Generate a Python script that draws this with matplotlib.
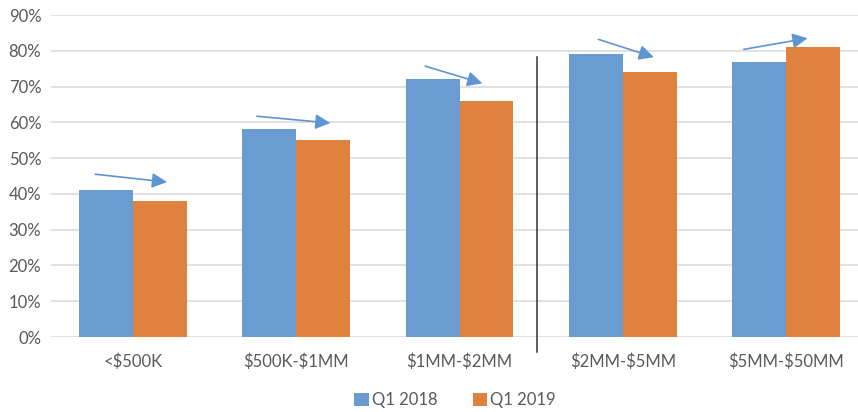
import matplotlib
matplotlib.use("Agg")
import matplotlib.pyplot as plt
from matplotlib.patches import FancyArrowPatch
import numpy as np

# Share of respondents by revenue band
categories = ["<$500K", "$500K-$1MM", "$1MM-$2MM", "$2MM-$5MM", "$5MM-$50MM"]
series_names = ["Q1 2018", "Q1 2019"]
q1_2018 = [41, 58, 72, 79, 77]
q1_2019 = [38, 55, 66, 74, 81]
y_ticks = [0, 10, 20, 30, 40, 50, 60, 70, 80, 90]

# Trend arrows: (x_start, y_start, x_end, y_end) in data units
trend_arrows = [
    (-0.23, 45.5, 0.21, 43.3),
    (0.76, 61.7, 1.21, 59.8),
    (1.79, 75.7, 2.14, 70.9),
    (2.85, 83.2, 3.19, 78.2),
    (3.74, 80.4, 4.13, 83.5),
]
divider_x = 2.477
divider_span = (-4.2, 78.2)

BLUE = "#6a9bd1"
ORANGE = "#e0823f"
ARROW = "#5f95d2"
TEXT = "#595959"
GRID = "#d9d9d9"

plt.rcParams["font.family"] = ["Lato", "DejaVu Sans"]
plt.rcParams["text.parse_math"] = False

fig = plt.figure(figsize=(8.58, 4.12), dpi=100)
W, H = 858, 412
ax = fig.add_axes([51 / W, (H - 337) / H, 817 / W, 322 / H])

x = np.arange(len(categories))
bw = 0.33
ax.bar(x - bw / 2, q1_2018, width=bw, color=BLUE, label=series_names[0], zorder=3)
ax.bar(x + bw / 2, q1_2019, width=bw, color=ORANGE, label=series_names[1], zorder=3)

ax.set_xlim(-0.5, len(categories) - 0.5)
ax.set_ylim(0, 90)
ax.set_yticks(y_ticks)
ax.set_yticklabels([f"{t}%" for t in y_ticks])
ax.set_xticks(x)
ax.set_xticklabels(categories)
ax.tick_params(axis="both", length=0, colors=TEXT, labelsize=12)
ax.tick_params(axis="y", pad=7)
ax.tick_params(axis="x", pad=12)

ax.grid(axis="y", color=GRID, linewidth=1.1, zorder=0)
ax.set_axisbelow(True)
for s in ax.spines.values():
    s.set_visible(False)

for (x0, y0, x1, y1) in trend_arrows:
    arr = FancyArrowPatch((x0, y0), (x1, y1),
                          arrowstyle="-|>,head_length=0.9,head_width=0.45",
                          mutation_scale=10, color=ARROW, linewidth=1.2,
                          shrinkA=0, shrinkB=0, zorder=5)
    ax.add_patch(arr)

ax.plot([divider_x, divider_x], divider_span, color="#333333", linewidth=1.1,
        clip_on=False, zorder=4)

leg = fig.legend(loc="center", bbox_to_anchor=(455 / W, 12 / H), ncol=2,
                 frameon=False, fontsize=12, handlelength=0.85, handleheight=0.85,
                 handletextpad=0.2, columnspacing=2.1)
for t in leg.get_texts():
    t.set_color(TEXT)

fig.savefig("out.png", dpi=100)
